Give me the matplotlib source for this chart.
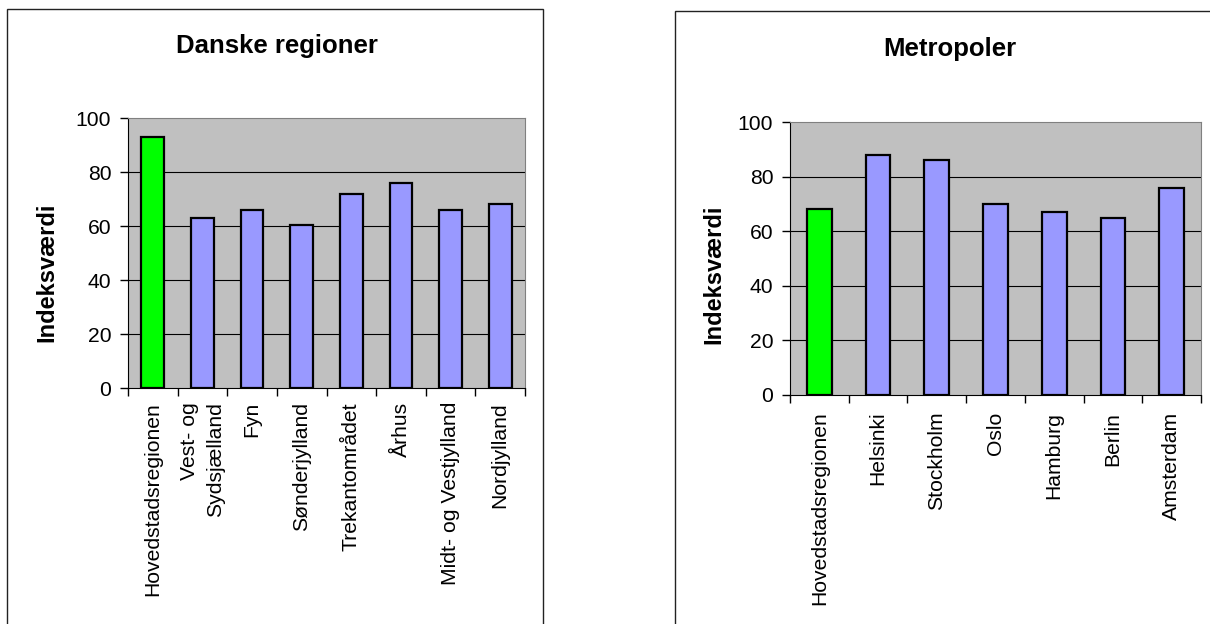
import matplotlib.pyplot as plt
from matplotlib.patches import Rectangle

plt.rcParams['font.family'] = ['Liberation Sans', 'DejaVu Sans']

regioner = ['Hovedstadsregionen', 'Vest- og\nSydsjælland', 'Fyn', 'Sønderjylland',
            'Trekantområdet', 'Århus', 'Midt- og Vestjylland', 'Nordjylland']
regioner_vaerdi = [93, 63, 66, 60.5, 72, 76, 66, 68]

metropoler = ['Hovedstadsregionen', 'Helsinki', 'Stockholm', 'Oslo',
              'Hamburg', 'Berlin', 'Amsterdam']
metropoler_vaerdi = [68, 88, 86, 70, 67, 65, 76]

y_ticks = [0, 20, 40, 60, 80, 100]

GREEN = '#00FF00'
BLUE = '#9999FF'
W, H = 1210, 624


def px(x, y):
    # pixel position (from top-left) -> figure fraction
    return x / W, 1 - y / H


def draw_bar_chart(fig, box, labels, values, title, title_pos, ylabel_pos, bar_width, label_pad):
    x0, y1 = px(box[0], box[1])
    x1, y0 = px(box[2], box[3])
    ax = fig.add_axes([x0, y0, x1 - x0, y1 - y0])
    n = len(labels)
    idx = list(range(n))
    colors = [GREEN] + [BLUE] * (n - 1)
    ax.bar(idx, values, width=bar_width, color=colors, edgecolor='black', linewidth=1.6, zorder=3)
    ax.set_facecolor('#C0C0C0')
    ax.set_xlim(-0.5, n - 0.5)
    ax.set_ylim(y_ticks[0], y_ticks[-1])
    ax.set_yticks(y_ticks)

    ax.set_xticks([i - 0.5 for i in range(n + 1)])
    ax.set_xticklabels([])
    ax.set_xticks(idx, minor=True)
    ax.set_xticklabels(labels, minor=True, rotation=90, va='top', ha='center',
                       multialignment='right', fontsize=15.2)
    for lbl in ax.get_xticklabels(minor=True):
        lbl.set_linespacing(1.45)
    ax.tick_params(axis='x', which='minor', length=0, pad=label_pad)
    ax.tick_params(axis='x', which='major', length=6, width=1, direction='out')
    ax.tick_params(axis='y', length=6, width=1, pad=6, labelsize=15.2)

    ax.set_axisbelow(True)
    ax.grid(axis='y', color='black', linewidth=0.8)
    gl = ax.get_ygridlines()
    gl[0].set_visible(False)
    gl[-1].set_visible(False)

    for s in ['top', 'right']:
        ax.spines[s].set_color('#808080')
    for s in ['left', 'bottom']:
        ax.spines[s].set_color('black')

    tx, ty = px(*title_pos)
    fig.text(tx, ty, title, fontsize=18.5, fontweight='bold', ha='center', va='center')
    lx, ly = px(*ylabel_pos)
    fig.text(lx, ly, 'Indeksværdi', fontsize=17, fontweight='bold', rotation=90,
             ha='center', va='center')
    return ax


fig = plt.figure(figsize=(W / 100, H / 100), dpi=100, facecolor='white')

# chart frames
fx, fy = px(7, 9)
fig.patches.append(Rectangle((fx, -0.1), (543 - 7) / W, fy + 0.1, transform=fig.transFigure,
                             fill=False, edgecolor='#222222', linewidth=1))
fx, fy = px(675, 10.5)
fig.patches.append(Rectangle((fx, -0.1), 0.5, fy + 0.1, transform=fig.transFigure,
                             fill=False, edgecolor='#222222', linewidth=1))

draw_bar_chart(fig, (128, 118, 525, 388), regioner, regioner_vaerdi, 'Danske regioner',
               (277, 46), (47, 272), 0.46, 10)
draw_bar_chart(fig, (790, 122, 1201, 395), metropoler, metropoler_vaerdi, 'Metropoler',
               (950, 49), (714, 274), 0.42, 12)

fig.savefig('out.png', dpi=100, facecolor='white')
